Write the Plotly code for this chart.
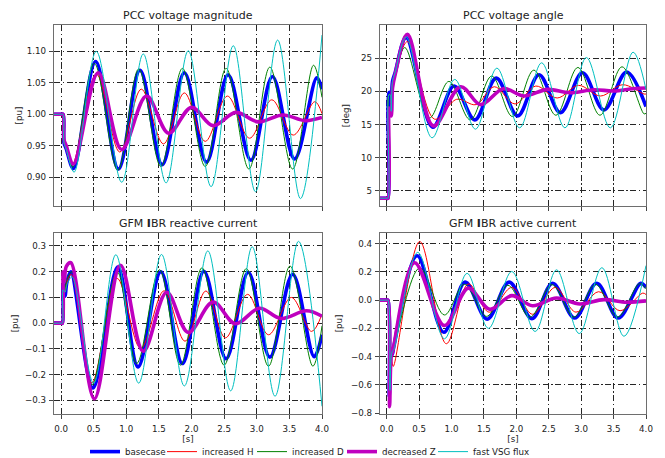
import plotly.graph_objects as go

# ---------------- data ----------------
series_names = ["basecase", "increased H", "increased D", "decreased Z", "fast VSG flux"]
series_colors = ["#0000ff", "#ff0000", "#008000", "#bf00bf", "#00bfbf"]
series_widths = [3.6, 1.0, 1.0, 3.6, 1.0]

# PCC voltage magnitude [pu]
vm_base_t = [-0.11, 0.0, 0.03, 0.045, 0.08, 0.19, 0.53, 0.88, 1.21, 1.55, 1.89, 2.23, 2.56, 2.91, 3.24, 3.58, 3.92, 4.0]
vm_base_v = [1.0, 1.0, 1.0, 0.955, 0.945, 0.914, 1.084, 0.913, 1.070, 0.920, 1.066, 0.924, 1.063, 0.927, 1.060, 0.929, 1.058, 1.040]
vm_h_t = [-0.11, 0.0, 0.03, 0.045, 0.08, 0.17, 0.54, 0.90, 1.23, 1.57, 1.89, 2.21, 2.55, 2.89, 3.23, 3.56, 3.89, 4.0]
vm_h_v = [1.0, 1.0, 1.0, 0.955, 0.945, 0.919, 1.064, 0.940, 1.040, 0.953, 1.034, 0.957, 1.029, 0.962, 1.023, 0.967, 1.020, 1.001]
vm_d_t = [-0.11, 0.0, 0.03, 0.045, 0.08, 0.18, 0.51, 0.87, 1.19, 1.53, 1.86, 2.21, 2.53, 2.88, 3.20, 3.55, 3.87, 4.0]
vm_d_v = [1.0, 1.0, 1.0, 0.955, 0.945, 0.916, 1.081, 0.911, 1.072, 0.917, 1.073, 0.917, 1.073, 0.913, 1.075, 0.913, 1.078, 1.027]
vm_z_t = [-0.11, 0.0, 0.03, 0.045, 0.08, 0.19, 0.57, 0.93, 1.31, 1.65, 2.00, 2.33, 2.68, 3.02, 3.40, 3.74, 4.0]
vm_z_v = [1.0, 1.0, 1.0, 0.960, 0.950, 0.921, 1.066, 0.944, 1.029, 0.970, 1.011, 0.982, 1.003, 0.988, 0.999, 0.990, 0.995]
vm_f_t = [-0.11, 0.0, 0.03, 0.045, 0.08, 0.20, 0.54, 0.93, 1.26, 1.61, 1.95, 2.30, 2.64, 2.98, 3.32, 3.67, 4.0]
vm_f_v = [1.0, 1.0, 1.0, 0.955, 0.945, 0.908, 1.100, 0.892, 1.096, 0.891, 1.101, 0.885, 1.109, 0.877, 1.118, 0.866, 1.126]

# PCC voltage angle [deg]
va_base_t = [-0.11, 0.0, 0.02, 0.035, 0.055, 0.07, 0.09, 0.13, 0.30, 0.71, 1.04, 1.36, 1.69, 2.02, 2.35, 2.68, 3.02, 3.35, 3.70, 4.0]
va_base_v = [3.9, 3.9, 3.9, 19.8, 19.8, 16.8, 21.5, 22.8, 28.1, 14.6, 20.8, 15.7, 22.0, 16.3, 22.5, 16.8, 22.8, 17.2, 22.9, 17.7]
va_h_t = [-0.11, 0.0, 0.02, 0.035, 0.055, 0.07, 0.09, 0.13, 0.32, 0.74, 1.08, 1.38, 1.66, 1.98, 2.30, 2.63, 2.96, 3.30, 3.64, 3.97, 4.0]
va_h_v = [3.9, 3.9, 3.9, 19.5, 19.5, 16.8, 21.0, 22.5, 27.5, 15.8, 18.8, 18.0, 20.7, 18.1, 20.8, 19.0, 20.9, 19.3, 21.0, 19.6, 19.6]
va_d_t = [-0.11, 0.0, 0.02, 0.035, 0.055, 0.07, 0.09, 0.13, 0.28, 0.66, 0.96, 1.29, 1.62, 1.94, 2.27, 2.61, 2.95, 3.29, 3.63, 3.97, 4.0]
va_d_v = [3.9, 3.9, 3.9, 19.5, 19.5, 17.0, 21.0, 22.3, 26.6, 16.0, 21.5, 15.7, 22.3, 16.2, 23.2, 16.4, 23.6, 16.4, 23.7, 16.6, 16.7]
va_z_t = [-0.11, 0.0, 0.02, 0.035, 0.05, 0.07, 0.09, 0.13, 0.32, 0.72, 1.14, 1.45, 1.80, 2.12, 2.48, 2.82, 3.20, 3.50, 3.80, 4.0]
va_z_v = [3.9, 3.9, 3.9, 17.5, 17.0, 16.3, 20.5, 22.5, 28.6, 14.8, 20.7, 18.0, 20.4, 19.3, 20.3, 19.8, 20.25, 20.05, 20.4, 20.5]
va_f_t = [-0.11, 0.0, 0.02, 0.035, 0.055, 0.07, 0.09, 0.13, 0.30, 0.70, 1.05, 1.37, 1.70, 2.05, 2.39, 2.75, 3.08, 3.45, 3.80, 4.0]
va_f_v = [3.9, 3.9, 3.9, 19.5, 19.5, 17.0, 21.5, 22.8, 28.2, 13.0, 21.8, 14.3, 23.5, 14.5, 24.3, 14.5, 25.1, 14.5, 25.9, 20.3]

# GFM IBR reactive current [pu]
iq_base_t = [-0.11, 0.0, 0.02, 0.03, 0.06, 0.09, 0.15, 0.49, 0.87, 1.18, 1.53, 1.86, 2.19, 2.53, 2.87, 3.20, 3.55, 3.88, 4.0]
iq_base_v = [0.0, 0.0, 0.0, 0.15, 0.105, 0.16, 0.20, -0.252, 0.218, -0.170, 0.200, -0.157, 0.202, -0.138, 0.198, -0.132, 0.190, -0.130, -0.045]
iq_h_t = [-0.11, 0.0, 0.02, 0.03, 0.06, 0.09, 0.16, 0.47, 0.86, 1.22, 1.58, 1.90, 2.22, 2.52, 2.86, 3.18, 3.53, 3.84, 4.0]
iq_h_v = [0.0, 0.0, 0.0, 0.15, 0.12, 0.16, 0.19, -0.232, 0.174, -0.098, 0.126, -0.070, 0.125, -0.057, 0.112, -0.045, 0.100, -0.032, 0.035]
iq_d_t = [-0.11, 0.0, 0.02, 0.03, 0.06, 0.09, 0.17, 0.47, 0.86, 1.16, 1.51, 1.83, 2.16, 2.50, 2.84, 3.18, 3.51, 3.86, 4.0]
iq_d_v = [0.0, 0.0, 0.0, 0.16, 0.13, 0.17, 0.20, -0.240, 0.200, -0.157, 0.208, -0.163, 0.215, -0.163, 0.212, -0.167, 0.222, -0.167, -0.010]
iq_z_t = [-0.11, 0.0, 0.02, 0.03, 0.05, 0.08, 0.15, 0.51, 0.91, 1.26, 1.62, 1.95, 2.33, 2.67, 3.04, 3.37, 3.76, 4.0]
iq_z_v = [0.0, 0.0, 0.0, 0.20, 0.16, 0.22, 0.235, -0.294, 0.225, -0.109, 0.120, -0.036, 0.082, -0.002, 0.058, 0.018, 0.048, 0.027]
iq_f_t = [-0.11, 0.0, 0.02, 0.03, 0.06, 0.09, 0.17, 0.50, 0.84, 1.19, 1.54, 1.89, 2.25, 2.60, 2.93, 3.28, 3.64, 4.0]
iq_f_v = [0.0, 0.0, 0.0, 0.13, 0.12, 0.15, 0.18, -0.233, 0.266, -0.233, 0.267, -0.244, 0.281, -0.263, 0.297, -0.284, 0.318, -0.323]

# GFM IBR active current [pu]
id_base_t = [-0.11, 0.0, 0.02, 0.04, 0.065, 0.085, 0.11, 0.47, 0.88, 1.21, 1.55, 1.89, 2.24, 2.56, 2.90, 3.24, 3.57, 3.92, 4.0]
id_base_v = [0.0, 0.0, 0.0, -0.68, -0.36, -0.385, -0.33, 0.315, -0.228, 0.128, -0.135, 0.128, -0.131, 0.120, -0.127, 0.120, -0.127, 0.119, 0.09]
id_h_t = [-0.11, 0.0, 0.02, 0.04, 0.065, 0.10, 0.51, 0.92, 1.26, 1.58, 1.93, 2.25, 2.60, 2.92, 3.27, 3.60, 3.95, 4.0]
id_h_v = [0.0, 0.0, 0.0, -0.50, -0.36, -0.47, 0.416, -0.309, 0.115, -0.085, 0.090, -0.100, 0.090, -0.085, 0.060, -0.075, 0.050, 0.040]
id_d_t = [-0.11, 0.0, 0.02, 0.04, 0.065, 0.10, 0.51, 0.89, 1.20, 1.54, 1.87, 2.21, 2.55, 2.89, 3.22, 3.56, 3.90, 4.0]
id_d_v = [0.0, 0.0, 0.0, -0.55, -0.35, -0.33, 0.229, -0.105, 0.112, -0.115, 0.105, -0.120, 0.110, -0.120, 0.112, -0.120, 0.118, 0.080]
id_z_t = [-0.11, 0.0, 0.02, 0.045, 0.07, 0.09, 0.43, 0.89, 1.26, 1.59, 1.93, 2.25, 2.62, 2.98, 3.35, 3.70, 4.0]
id_z_v = [0.0, 0.0, 0.0, -0.755, -0.40, -0.37, 0.265, -0.180, 0.085, -0.065, 0.032, -0.040, 0.015, -0.027, 0.004, -0.015, -0.005]
id_f_t = [-0.11, 0.0, 0.02, 0.05, 0.07, 0.09, 0.11, 0.48, 0.89, 1.24, 1.57, 1.93, 2.29, 2.62, 2.97, 3.32, 3.66, 4.0]
id_f_v = [0.0, 0.0, 0.0, -0.64, -0.40, -0.36, -0.35, 0.339, -0.274, 0.190, -0.200, 0.203, -0.222, 0.215, -0.237, 0.230, -0.256, 0.245]

panel_titles = ["PCC voltage magnitude", "PCC voltage angle",
                "GFM <b>I</b>BR reactive current", "GFM <b>I</b>BR active current"]
panel_ylabels = ["[pu]", "[deg]", "[pu]", "[pu]"]
x_ticks = [0.0, 0.5, 1.0, 1.5, 2.0, 2.5, 3.0, 3.5, 4.0]
vm_ticks = [0.90, 0.95, 1.00, 1.05, 1.10]
va_ticks = [5, 10, 15, 20, 25]
iq_ticks = [-0.3, -0.2, -0.1, 0.0, 0.1, 0.2, 0.3]
id_ticks = [-0.8, -0.6, -0.4, -0.2, 0.0, 0.2, 0.4]

panels = [
    [(vm_base_t, vm_base_v), (vm_h_t, vm_h_v), (vm_d_t, vm_d_v), (vm_z_t, vm_z_v), (vm_f_t, vm_f_v)],
    [(va_base_t, va_base_v), (va_h_t, va_h_v), (va_d_t, va_d_v), (va_z_t, va_z_v), (va_f_t, va_f_v)],
    [(iq_base_t, iq_base_v), (iq_h_t, iq_h_v), (iq_d_t, iq_d_v), (iq_z_t, iq_z_v), (iq_f_t, iq_f_v)],
    [(id_base_t, id_base_v), (id_h_t, id_h_v), (id_d_t, id_d_v), (id_z_t, id_z_v), (id_f_t, id_f_v)],
]

# ---------------- layout ----------------
# the page body adds an 8px offset, so the figure is laid out in (screen - 8) coordinates
OFF = 8
W, H = 657, 470
ML, MR, MT, MB = 46, 19, 17, 60
PW, PH = W - ML - MR, H - MT - MB

def px_x(p):
    return (p - OFF - ML) / PW

def px_y(p):
    return (H - MB - (p - OFF)) / PH

x_domains = [[px_x(54), px_x(322)], [px_x(380), px_x(646)]]
y_domains = [[px_y(208), px_y(25)], [px_y(418), px_y(235)]]
x_ranges = [[-0.108, 4.0], [-0.103, 4.0], [-0.108, 4.0], [-0.103, 4.0]]
y_ranges = [[0.854, 1.142], [2.7, 30.0], [-0.353, 0.351], [-0.807, 0.477]]
y_tickvals = [vm_ticks, va_ticks, iq_ticks, id_ticks]
y_formats = [".2f", "d", ".1f", ".1f"]
y_standoffs = [2, 9, 4, 6]
legend_widths = [32, 45, 45, 46, 65]

FONT = "DejaVu Sans"
fig = go.Figure()

for p in range(4):
    ax = "" if p == 0 else str(p + 1)
    for s in range(5):
        t, v = panels[p][s]
        fig.add_trace(go.Scatter(
            x=t, y=v, mode="lines",
            line=dict(color=series_colors[s], width=series_widths[s], shape="spline", smoothing=1.0),
            name=series_names[s], legendgroup=series_names[s], showlegend=(p == 0),
            legendwidth=legend_widths[s],
            xaxis="x" + ax, yaxis="y" + ax, hoverinfo="skip"))

grid_common = dict(showgrid=True, gridcolor="#262626", gridwidth=0.9, griddash="6px,2.5px,1.5px,2.5px",
                   zeroline=False, showline=True, mirror=True, linecolor="#6e6e6e", linewidth=1.3,
                   ticks="outside", ticklen=4, tickwidth=1, tickcolor="#444",
                   tickfont=dict(family=FONT, size=8.7, color="#222"), automargin=False)

layout = {}
for p in range(4):
    ax = "" if p == 0 else str(p + 1)
    r, c = divmod(p, 2)
    xa = dict(grid_common, domain=x_domains[c], range=x_ranges[p], anchor="y" + ax,
              tickmode="array", tickvals=x_ticks, tickformat=".1f", showticklabels=(r == 1),
              ticklabelstandoff=2)
    if r == 1:
        xa["title"] = dict(text="[s]", font=dict(family=FONT, size=8.7, color="#222"), standoff=0)
    ya = dict(grid_common, domain=y_domains[r], range=y_ranges[p], anchor="x" + ax,
              tickmode="array", tickvals=y_tickvals[p], tickformat=y_formats[p],
              ticklabelstandoff=1,
              title=dict(text=panel_ylabels[p], font=dict(family=FONT, size=8.7, color="#222"),
                         standoff=y_standoffs[p]))
    layout["xaxis" + ax] = xa
    layout["yaxis" + ax] = ya

annotations = []
for p in range(4):
    r, c = divmod(p, 2)
    annotations.append(dict(text=panel_titles[p], xref="paper", yref="paper",
                            x=sum(x_domains[c]) / 2, y=px_y(15 if r == 0 else 226),
                            xanchor="center", yanchor="middle", showarrow=False,
                            font=dict(family=FONT, size=11, color="#222")))

fig.update_layout(
    **layout,
    width=W, height=H,
    margin=dict(l=ML, r=MR, t=MT, b=MB, pad=0),
    paper_bgcolor="white", plot_bgcolor="white",
    font=dict(family=FONT, size=9, color="#222"),
    annotations=annotations,
    showlegend=True,
    legend=dict(orientation="h", x=px_x(85), xanchor="left", y=px_y(456), yanchor="middle",
                font=dict(family=FONT, size=8.7, color="#222"), bgcolor="rgba(0,0,0,0)",
                itemwidth=30, tracegroupgap=0, borderwidth=0),
)

fig.write_html("out.html")
